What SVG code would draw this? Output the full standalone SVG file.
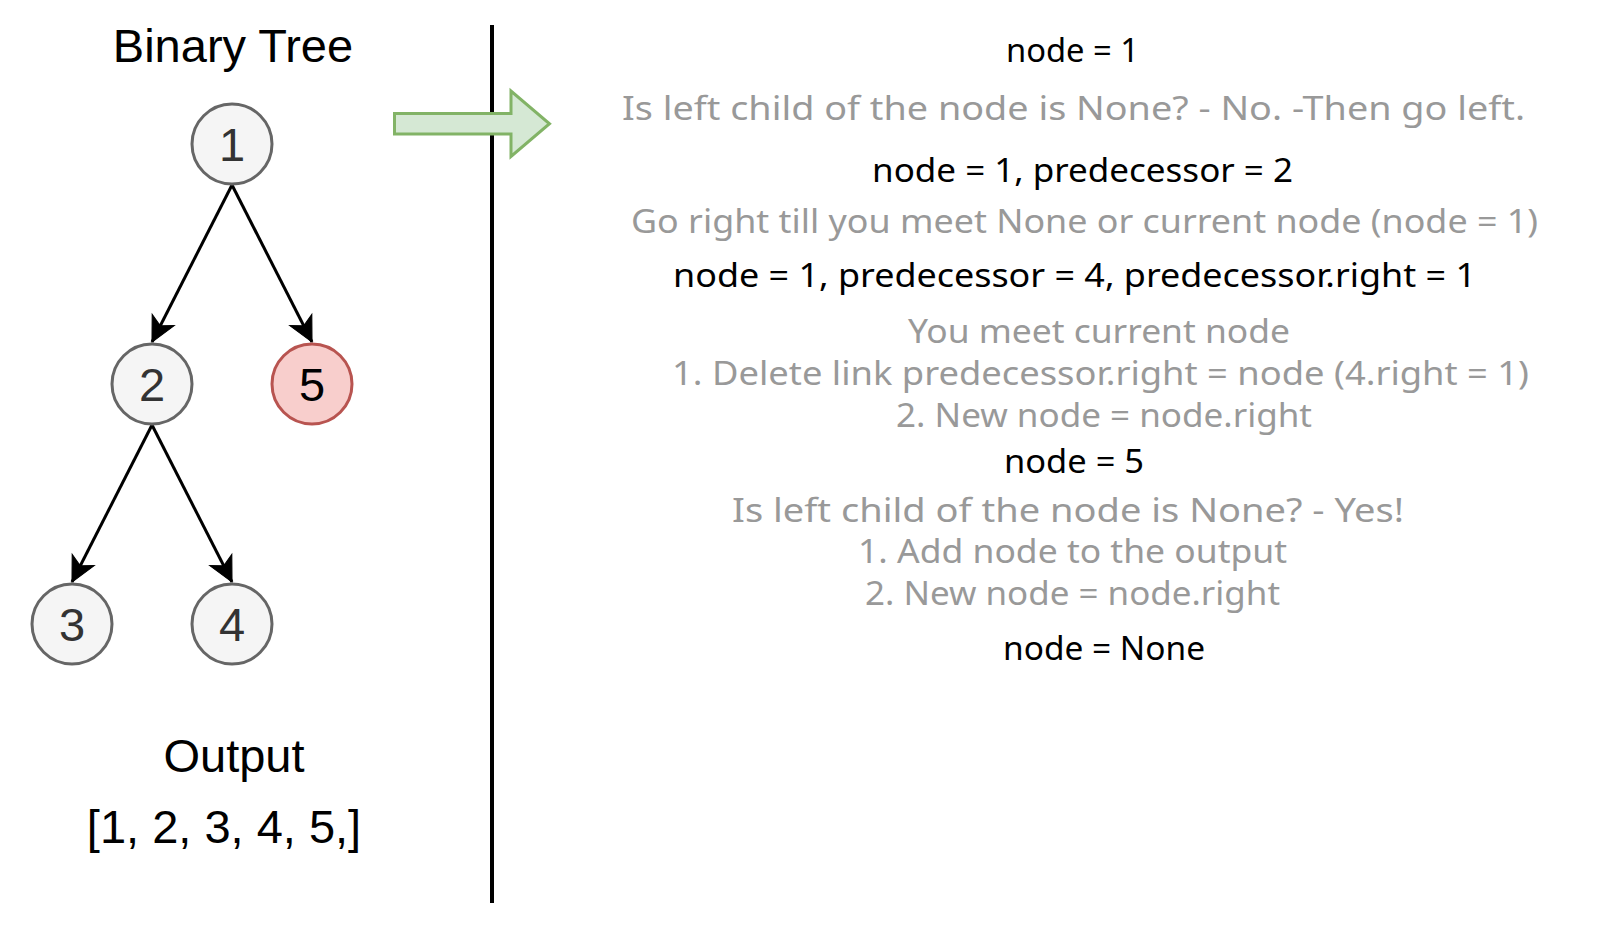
<svg xmlns="http://www.w3.org/2000/svg" width="1604" height="934" viewBox="0 0 1604 934">
  <style>
    .title { font-family: "Liberation Sans", Arial, sans-serif; font-size: 47px; fill: #000000; text-anchor: middle; }
    .node circle { fill: #f5f5f5; stroke: #666666; stroke-width: 3; }
    .node text { font-family: "Liberation Sans", Arial, sans-serif; font-size: 47px; fill: #333333; text-anchor: middle; }
    .node.hl circle { fill: #f8cecc; stroke: #b85450; }
    .node.hl text { fill: #000000; }
    .edge { stroke: #000000; stroke-width: 3; fill: none; }
    .step { font-family: "Noto Sans", "DejaVu Sans", sans-serif; font-size: 32px; }
    .state { fill: #000000; }
    .note { fill: #999999; }
  </style>
  <defs>
    <marker id="arrow" markerUnits="userSpaceOnUse" markerWidth="30" markerHeight="30" viewBox="-25 -14 27 28" refX="0" refY="0" orient="auto">
      <path d="M0,0 L-23,-11.5 L-17,0 L-23,11.5 Z" fill="#000000" stroke="#000000" stroke-width="1"/>
    </marker>
  </defs>

  <rect width="1604" height="934" fill="#ffffff"/>

  <!-- left panel headings -->
  <text class="title" x="233" y="62">Binary Tree</text>
  <text class="title" x="234" y="772">Output</text>
  <text class="title" x="224" y="843">[1, 2, 3, 4, 5,]</text>

  <!-- tree edges -->
  <g id="connectors">
    <line class="edge" x1="232" y1="185" x2="152" y2="342" marker-end="url(#arrow)"/>
    <line class="edge" x1="232" y1="185" x2="312" y2="342" marker-end="url(#arrow)"/>
    <line class="edge" x1="152" y1="425" x2="72" y2="582" marker-end="url(#arrow)"/>
    <line class="edge" x1="152" y1="425" x2="232" y2="582" marker-end="url(#arrow)"/>
  </g>

  <!-- tree nodes -->
  <g id="node-1" class="node">
    <circle cx="232" cy="144" r="40"/>
    <text x="232" y="161">1</text>
  </g>
  <g id="node-2" class="node">
    <circle cx="152" cy="384" r="40"/>
    <text x="152" y="401">2</text>
  </g>
  <g id="node-5" class="node hl">
    <circle cx="312" cy="384" r="40"/>
    <text x="312" y="401">5</text>
  </g>
  <g id="node-3" class="node">
    <circle cx="72" cy="624" r="40"/>
    <text x="72" y="641">3</text>
  </g>
  <g id="node-4" class="node">
    <circle cx="232" cy="624" r="40"/>
    <text x="232" y="641">4</text>
  </g>

  <!-- divider -->
  <line id="divider" x1="492" y1="25" x2="492" y2="903" stroke="#000000" stroke-width="4"/>

  <!-- block arrow -->
  <g id="step-arrow">
    <polygon points="394.5,113.5 511,113.5 511,91 549.5,123.75 511,156.5 511,134 394.5,134" fill="#d5e8d4" stroke="#82b366" stroke-width="3" stroke-linejoin="miter"/>
  </g>

  <!-- walkthrough steps -->
  <g id="steps" class="step">
    <text class="state" x="1006" y="62" textLength="133" lengthAdjust="spacingAndGlyphs">node = 1</text>
    <text class="note" x="622" y="120" textLength="903" lengthAdjust="spacingAndGlyphs">Is left child of the node is None? - No. -Then go left.</text>
    <text class="state" x="872" y="182" textLength="421" lengthAdjust="spacingAndGlyphs">node = 1, predecessor = 2</text>
    <text class="note" x="631" y="233" textLength="907" lengthAdjust="spacingAndGlyphs">Go right till you meet None or current node (node = 1)</text>
    <text class="state" x="673" y="287" textLength="803" lengthAdjust="spacingAndGlyphs">node = 1, predecessor = 4, predecessor.right = 1</text>
    <text class="note" x="908" y="343" textLength="382" lengthAdjust="spacingAndGlyphs">You meet current node</text>
    <text class="note" x="672" y="385" textLength="857" lengthAdjust="spacingAndGlyphs">1. Delete link predecessor.right = node (4.right = 1)</text>
    <text class="note" x="896" y="427" textLength="416" lengthAdjust="spacingAndGlyphs">2. New node = node.right</text>
    <text class="state" x="1004" y="473" textLength="140" lengthAdjust="spacingAndGlyphs">node = 5</text>
    <text class="note" x="732" y="522" textLength="672" lengthAdjust="spacingAndGlyphs">Is left child of the node is None? - Yes!</text>
    <text class="note" x="858" y="563" textLength="429" lengthAdjust="spacingAndGlyphs">1. Add node to the output</text>
    <text class="note" x="865" y="605" textLength="415" lengthAdjust="spacingAndGlyphs">2. New node = node.right</text>
    <text class="state" x="1003" y="660" textLength="202" lengthAdjust="spacingAndGlyphs">node = None</text>
  </g>
</svg>
